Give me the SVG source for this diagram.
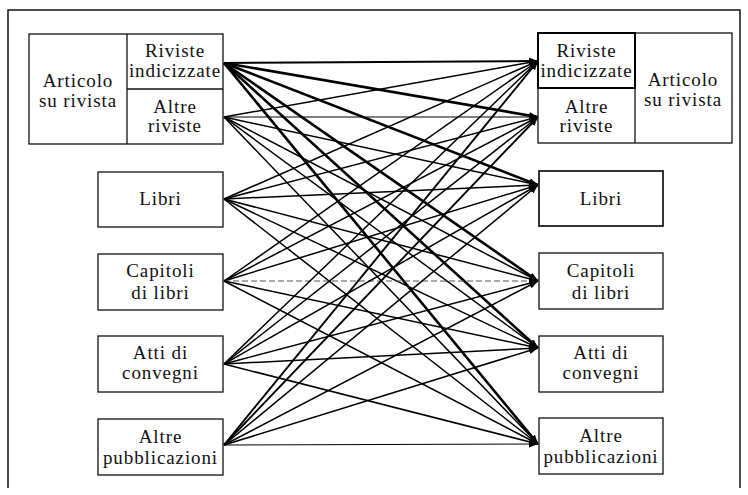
<svg xmlns="http://www.w3.org/2000/svg" width="748" height="495" viewBox="0 0 748 495">
<style>
.box{fill:#fff;stroke:#111;stroke-width:1.3}
.bold{fill:none;stroke:#000;stroke-width:2}
.t{font-family:'Liberation Serif','Times New Roman',serif;font-size:19px;letter-spacing:0.9px;fill:#111;text-anchor:middle}
.c line{stroke:#000;fill:none}
.k{stroke-width:2.6}
.m{stroke-width:1.5}
.f{stroke-width:1}
.d{stroke-width:1;stroke:#555 !important;stroke-dasharray:6 3}
</style>
<defs>
<marker id="ah" markerUnits="userSpaceOnUse" markerWidth="9" markerHeight="7" refX="9" refY="3.5" orient="auto">
<path d="M0,0 L9,3.5 L0,7 z" fill="#000"/>
</marker>
</defs>
<rect width="748" height="495" fill="#fff"/>
<path d="M8,488 V10 H740 V488" fill="none" stroke="#111" stroke-width="1.5"/>

<g class="c" marker-end="url(#ah)">
<line class="m" x1="224" y1="63" x2="538" y2="61" style="stroke-width:2"/>
<line class="k" x1="224" y1="63" x2="538" y2="117"/>
<line class="k" x1="224" y1="63" x2="538" y2="185"/>
<line class="k" x1="224" y1="63" x2="538" y2="281"/>
<line class="k" x1="224" y1="63" x2="538" y2="348"/>
<line class="k" x1="224" y1="63" x2="538" y2="444"/>

<line class="m" x1="224" y1="117" x2="538" y2="61"/>
<line class="f" x1="224" y1="117" x2="538" y2="117"/>
<line class="m" x1="224" y1="117" x2="538" y2="185"/>
<line class="m" x1="224" y1="117" x2="538" y2="281"/>
<line class="m" x1="224" y1="117" x2="538" y2="348"/>
<line class="m" x1="224" y1="117" x2="538" y2="444"/>

<line class="m" x1="224" y1="199" x2="538" y2="61"/>
<line class="m" x1="224" y1="199" x2="538" y2="117"/>
<line class="m" x1="224" y1="199" x2="538" y2="185"/>
<line class="m" x1="224" y1="199" x2="538" y2="281"/>
<line class="m" x1="224" y1="199" x2="538" y2="348"/>
<line class="m" x1="224" y1="199" x2="538" y2="444"/>

<line class="m" x1="224" y1="281" x2="538" y2="61"/>
<line class="m" x1="224" y1="281" x2="538" y2="117"/>
<line class="m" x1="224" y1="281" x2="538" y2="185"/>
<line class="d" x1="224" y1="281" x2="538" y2="281"/>
<line class="m" x1="224" y1="281" x2="538" y2="348"/>
<line class="m" x1="224" y1="281" x2="538" y2="444"/>

<line class="m" x1="224" y1="364" x2="538" y2="61"/>
<line class="m" x1="224" y1="364" x2="538" y2="117"/>
<line class="m" x1="224" y1="364" x2="538" y2="185"/>
<line class="m" x1="224" y1="364" x2="538" y2="281"/>
<line class="m" x1="224" y1="364" x2="538" y2="348"/>
<line class="m" x1="224" y1="364" x2="538" y2="444"/>

<line class="m" x1="224" y1="445" x2="538" y2="61" style="stroke-width:1.9"/>
<line class="m" x1="224" y1="445" x2="538" y2="117" style="stroke-width:1.9"/>
<line class="m" x1="224" y1="445" x2="538" y2="185"/>
<line class="m" x1="224" y1="445" x2="538" y2="281"/>
<line class="m" x1="224" y1="445" x2="538" y2="348"/>
<line class="f" x1="224" y1="445" x2="538" y2="444"/>
</g>

<g font-family="Liberation Serif, Times New Roman, serif">
<g id="left-articolo">
<rect class="box" x="29" y="34" width="194" height="110"/>
<line x1="127" y1="34" x2="127" y2="144" stroke="#111" stroke-width="1.3"/>
<line x1="127" y1="89" x2="223" y2="89" stroke="#111" stroke-width="1.3"/>
<text class="t" x="78" y="87">Articolo</text>
<text class="t" x="78" y="107">su rivista</text>
</g>
<g id="left-riviste-indicizzate">
<text class="t" x="175" y="57">Riviste</text>
<text class="t" x="175" y="77">indicizzate</text>
</g>
<g id="left-altre-riviste">
<text class="t" x="175" y="113">Altre</text>
<text class="t" x="175" y="132">riviste</text>
</g>
<g id="left-libri">
<rect class="box" x="98" y="172" width="125" height="55"/>
<text class="t" x="160.5" y="205">Libri</text>
</g>
<g id="left-capitoli">
<rect class="box" x="98" y="254" width="125" height="56"/>
<text class="t" x="160.5" y="277">Capitoli</text>
<text class="t" x="160.5" y="299">di libri</text>
</g>
<g id="left-atti">
<rect class="box" x="98" y="336" width="125" height="56"/>
<text class="t" x="160.5" y="359">Atti di</text>
<text class="t" x="160.5" y="379">convegni</text>
</g>
<g id="left-altre-pubblicazioni">
<rect class="box" x="98" y="419" width="125" height="56"/>
<text class="t" x="160.5" y="443">Altre</text>
<text class="t" x="160.5" y="464">pubblicazioni</text>
</g>

<g id="right-articolo">
<rect class="box" x="538" y="33" width="194" height="110"/>
<line x1="635" y1="33" x2="635" y2="143" stroke="#111" stroke-width="1.3"/>
<text class="t" x="683" y="86">Articolo</text>
<text class="t" x="683" y="106">su rivista</text>
</g>
<g id="right-riviste-indicizzate">
<rect class="bold" x="538" y="33" width="97" height="55"/>
<text class="t" x="586.5" y="57">Riviste</text>
<text class="t" x="586.5" y="77">indicizzate</text>
</g>
<g id="right-altre-riviste">
<text class="t" x="586.5" y="113">Altre</text>
<text class="t" x="586.5" y="132">riviste</text>
</g>
<g id="right-libri">
<rect class="box" x="539" y="171" width="124" height="55" style="stroke-width:1.7"/>
<text class="t" x="601" y="205">Libri</text>
</g>
<g id="right-capitoli">
<rect class="box" x="539" y="253" width="124" height="56"/>
<text class="t" x="601" y="277">Capitoli</text>
<text class="t" x="601" y="299">di libri</text>
</g>
<g id="right-atti">
<rect class="box" x="539" y="336" width="124" height="56"/>
<text class="t" x="601" y="359">Atti di</text>
<text class="t" x="601" y="379">convegni</text>
</g>
<g id="right-altre-pubblicazioni">
<rect class="box" x="539" y="418" width="124" height="56"/>
<text class="t" x="601" y="442">Altre</text>
<text class="t" x="601" y="463">pubblicazioni</text>
</g>
</g>
</svg>
